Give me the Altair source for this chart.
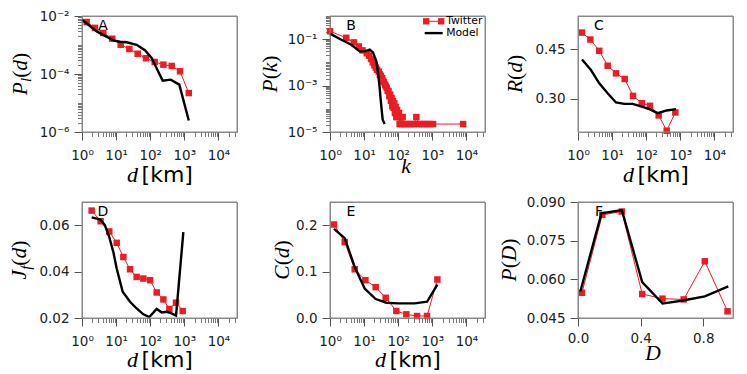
import altair as alt
import pandas as pd

RED = "#ec1c24"
FRAME = "#8a8a8a"
W, H = 155, 116
SANS = "DejaVu Sans"
SERIF = "Liberation Serif"
TICK_FS = 13.5

# ---------------- data ----------------
# A: P_l(d)
a_tw_d = [1.37, 2.4, 4.2, 7.7, 13.6, 24.4, 43, 75, 135, 243, 427, 748, 1350]
a_tw_v = [6.2e-3, 3.9e-3, 2.6e-3, 1.65e-3, 1.02e-3, 7.3e-4, 5.0e-4, 3.5e-4, 2.6e-4, 2.1e-4, 1.9e-4, 1.24e-4, 2.2e-5]
a_md_d = [1.0, 2.7, 8.3, 13, 20.4, 40, 70, 110, 162, 232, 400, 713, 1350]
a_md_v = [7.4e-3, 2.95e-3, 1.45e-3, 1.3e-3, 1.24e-3, 1.02e-3, 6.6e-4, 3.56e-4, 1.41e-4, 5.9e-5, 6.4e-5, 4.3e-5, 2.5e-6]

# B: P(k)
b_tw_k = [1, 3, 5, 7, 9, 12, 14, 16, 18, 20, 22, 24, 27, 29, 31, 34, 36, 38, 41, 43,
          46, 49, 52, 55, 58, 61, 64, 67, 70, 73, 77, 80, 84, 88, 92, 96, 100, 105, 110, 118,
          125, 135, 150, 170, 200, 240, 290, 340, 400, 480, 580, 700, 850, 1050, 8000]
b_tw_v = [0.22, 0.115, 0.073, 0.049, 0.033, 0.025, 0.0195, 0.014, 0.010, 0.0075, 0.006, 0.0048, 0.0040, 0.0030, 0.0026, 0.0021, 0.0016, 0.0014, 0.0011, 0.00095,
          0.0008, 0.0006, 0.00057, 0.00035, 0.00041, 0.00022, 0.00029, 0.00013, 0.00021, 0.00011, 0.00017, 0.000066, 0.00012, 0.000044, 0.000088, 0.000066, 0.000044, 0.000066, 0.000022, 0.000044,
          0.000022, 0.000044, 0.000022, 0.000022, 0.000022, 0.000022, 0.000022, 0.000044, 0.000022, 0.000022, 0.000022, 0.000022, 0.000022, 0.000022, 0.000022]
b_md_k = [1, 2.15, 4.2, 7.4, 10.4, 14.6, 18.2, 22.9, 25.6, 28.6, 30.6, 32.7, 35, 40]
b_md_v = [0.173, 0.095, 0.058, 0.030, 0.030, 0.0354, 0.027, 0.0111, 0.0035, 7.9e-4, 2.5e-4, 9.2e-5, 3.4e-5, 2.2e-5]

# C: R(d)
c_tw_d = [1.31, 2.3, 4.2, 7.4, 13, 23.4, 41, 74, 129, 232, 398, 713]
c_tw_v = [0.500, 0.479, 0.445, 0.400, 0.377, 0.360, 0.309, 0.287, 0.279, 0.250, 0.204, 0.259]
c_md_d = [1.31, 2.4, 4.2, 7.4, 13, 22.8, 40, 70, 124, 217, 398, 748]
c_md_v = [0.419, 0.387, 0.347, 0.317, 0.289, 0.285, 0.285, 0.277, 0.269, 0.257, 0.265, 0.269]

# D: J_f(d)
d_tw_d = [1.92, 3.5, 6.3, 10.4, 16.3, 25.6, 40, 63, 99, 155, 243, 364, 571, 896]
d_tw_v = [0.0663, 0.0617, 0.0573, 0.0524, 0.0463, 0.0410, 0.0377, 0.0370, 0.0363, 0.0310, 0.0280, 0.0239, 0.0266, 0.0230]
d_md_d = [1.92, 3.5, 4.7, 6.3, 8.3, 10.4, 15.6, 25.6, 40, 63, 94, 155, 217, 304, 426, 571, 936]
d_md_v = [0.0634, 0.0624, 0.0599, 0.0549, 0.0484, 0.0413, 0.0313, 0.0270, 0.0241, 0.0216, 0.0204, 0.0239, 0.0224, 0.0227, 0.0220, 0.0210, 0.0570]

# E: C(d)
e_tw_d = [1.31, 2.7, 5.3, 10.9, 21.8, 42.9, 88, 173, 356, 700, 1405]
e_tw_v = [0.2015, 0.1636, 0.105, 0.0815, 0.0665, 0.0436, 0.0151, 0.0079, 0.0043, 0.0043, 0.083]
e_md_d = [1.31, 2.7, 5.3, 10.4, 21.8, 45, 99, 304, 700, 1405]
e_md_v = [0.192, 0.172, 0.110, 0.0636, 0.0408, 0.0329, 0.0315, 0.0315, 0.035, 0.072]

# F: P(D)
f_tw_D = [0.025, 0.155, 0.28, 0.41, 0.54, 0.675, 0.81, 0.955]
f_tw_v = [0.0548, 0.0850, 0.0863, 0.0543, 0.0525, 0.0522, 0.0670, 0.0476]
f_md_D = [0.015, 0.15, 0.28, 0.41, 0.54, 0.67, 0.81, 0.96]
f_md_v = [0.0553, 0.0856, 0.0869, 0.0589, 0.0506, 0.0518, 0.0534, 0.0573]

LEGEND_LABELS = ["Twitter", "Model"]

# tick values
XLOG_DOMAIN = [1, 35000]
X_MAJOR = [1, 10, 100, 1000, 10000]
X_MINOR = [m * 10 ** e for e in range(0, 5) for m in range(2, 10) if m * 10 ** e <= 35000]
A_Y_MAJOR = [1e-6, 1e-4, 1e-2]
A_Y_MINOR = [m * 10.0 ** e for e in range(-6, -2) for m in range(2, 11)]
B_Y_MAJOR = [1e-5, 1e-3, 1e-1]
B_Y_MINOR = [m * 10.0 ** e for e in range(-5, 0) for m in range(2, 11)]

SUP = ("'10' + (round(log(datum.value)/LN10) < 0 ? '\u207b' : '') + "
       "['\u2070','\u00b9','\u00b2','\u00b3','\u2074','\u2075','\u2076','\u2077','\u2078','\u2079']"
       "[abs(round(log(datum.value)/LN10))]")


def major_axis(orient, values, fmt=None, expr=None, pad=5):
    kw = dict(orient=orient, values=values, grid=False, title=None, domain=True,
              domainColor=FRAME, domainWidth=1,
              tickSize=8, tickColor="#555555", tickWidth=1, labelFont=SANS,
              labelFontSize=TICK_FS, labelColor="#222222", labelPadding=pad,
              labelFlush=False, labelOverlap=False)
    if fmt:
        kw["format"] = fmt
    if expr:
        kw["labelExpr"] = expr
    return alt.Axis(**kw)


def minor_axis(orient, values):
    return alt.Axis(orient=orient, values=values, grid=False, title=None, domain=False,
                    labels=False, tickSize=4.5, tickColor="#555555", tickWidth=0.8)


SERIF_W = {'P': 0.611, 'd': 0.5, 'k': 0.444, 'R': 0.611, 'J': 0.444, 'C': 0.667,
           'D': 0.722, 'l': 0.278, 'f': 0.278, '(': 0.333, ')': 0.333}
SANS_W = {'[': 0.390, 'k': 0.579, 'm': 0.974, ']': 0.390, ' ': 0.318}


def seg_width(text, fam, size):
    table = SANS_W if fam == "sans" else SERIF_W
    return sum(table[c] for c in text) * size


def text_layer(text, x, y, font, size, italic=False, angle=0, align="left",
               baseline="alphabetic", color="black"):
    props = dict(font=font, fontSize=size, align=align, baseline=baseline, color=color)
    if italic:
        props["fontStyle"] = "italic"
    if angle:
        props["angle"] = angle
    return alt.Chart(pd.DataFrame({"t": [text]})).mark_text(**props).encode(
        x=alt.value(x), y=alt.value(y), text="t:N")


def y_title(parts, cx, size=21.5):
    total = sum(seg_width(t, f, size * s) for t, f, it, s, sh in parts)
    y = H / 2 + total / 2
    bx = cx + 0.235 * size
    layers = []
    for t, f, it, s, sh in parts:
        fs = size * s
        font = SANS if f == "sans" else SERIF
        layers.append(text_layer(t, bx + sh * size, y, font, fs, italic=it, angle=270))
        y -= seg_width(t, f, fs)
    return layers


def x_title(parts, cx, by):
    # parts: (text, fam, italic, size); text None means a gap of `size` px
    total = sum(s if t is None else seg_width(t, f, s) for t, f, it, s in parts)
    x = cx - total / 2
    layers = []
    for t, f, it, s in parts:
        if t is None:
            x += s
            continue
        font = SANS if f == "sans" else SERIF
        layers.append(text_layer(t, x, H + by, font, s, italic=it))
        x += seg_width(t, f, s)
    return layers


def frame_layers():
    one = pd.DataFrame({"t": [0]})
    out = []
    for y in (0, H):
        out.append(alt.Chart(one).mark_rule(color=FRAME, strokeWidth=1).encode(
            x=alt.value(0), x2=alt.value(W), y=alt.value(y)))
    for x in (0, W):
        out.append(alt.Chart(one).mark_rule(color=FRAME, strokeWidth=1).encode(
            x=alt.value(x), y=alt.value(0), y2=alt.value(H)))
    return out


def legend_layers(x0, y0, dy):
    out = []
    one = pd.DataFrame({"t": [0]})
    out.append(alt.Chart(one).mark_rule(color=RED, strokeWidth=1).encode(
        x=alt.value(x0), x2=alt.value(x0 + 18), y=alt.value(y0)))
    for xx in (x0 + 1.5, x0 + 16.5):
        out.append(alt.Chart(one).mark_point(shape="square", filled=True, size=40, color=RED, opacity=1).encode(
            x=alt.value(xx), y=alt.value(y0)))
    out.append(alt.Chart(one).mark_rule(color="black", strokeWidth=2.4).encode(
        x=alt.value(x0), x2=alt.value(x0 + 18), y=alt.value(y0 + dy)))
    for i, lab in enumerate(LEGEND_LABELS):
        out.append(text_layer(lab, x0 + 21.5, y0 + i * dy, SANS, 10.8, baseline="middle"))
    return out


def panel(tw_x, tw_y, md_x, md_y, xscale, yscale, x_major, x_minor, y_major, y_minor,
          letter, ytitle, xtitle, extra=()):
    tw = pd.DataFrame({"x": tw_x, "y": tw_y})
    md = pd.DataFrame({"x": md_x, "y": md_y})
    tw_line = alt.Chart(tw).mark_line(color=RED, strokeWidth=1).encode(
        x=alt.X("x:Q", scale=xscale, axis=x_major), y=alt.Y("y:Q", scale=yscale, axis=y_major))
    tw_pts = alt.Chart(tw).mark_point(shape="square", filled=True, size=42, color=RED, opacity=1).encode(
        x=alt.X("x:Q", scale=xscale, axis=None), y=alt.Y("y:Q", scale=yscale, axis=None))
    md_line = alt.Chart(md).mark_line(color="black", strokeWidth=2.4).encode(
        x=alt.X("x:Q", scale=xscale, axis=x_minor), y=alt.Y("y:Q", scale=yscale, axis=y_minor))
    lab = text_layer(letter, 21, 10, SANS, 14, align="center", baseline="middle")
    layers = [tw_line, tw_pts, md_line, lab] + frame_layers() + ytitle + xtitle + list(extra)
    return alt.layer(*layers).resolve_axis(x="independent", y="independent").properties(
        width=W, height=H)


xlog = alt.Scale(type="log", domain=XLOG_DOMAIN, nice=False)

XT_KM = [("d", "serif", True, 22), (None, None, False, 3.5), ("[km]", "sans", False, 22)]
XLOG_PAD = 8

pA = panel(a_tw_d, a_tw_v, a_md_d, a_md_v, xlog,
           alt.Scale(type="log", domain=[1e-6, 1e-2], nice=False),
           major_axis("bottom", X_MAJOR, expr=SUP, pad=XLOG_PAD), minor_axis("bottom", X_MINOR),
           major_axis("left", A_Y_MAJOR, expr=SUP), minor_axis("left", A_Y_MINOR),
           "A",
           y_title([("P", "serif", True, 1, 0), ("l", "serif", True, 0.7, 0.22),
                    ("(", "serif", False, 1, 0), ("d", "serif", True, 1, 0), (")", "serif", False, 1, 0)], -60.5),
           x_title(XT_KM, 78, 50))

pB = panel(b_tw_k, b_tw_v, b_md_k, b_md_v, xlog,
           alt.Scale(type="log", domain=[1e-5, 1], nice=False),
           major_axis("bottom", X_MAJOR, expr=SUP, pad=XLOG_PAD), minor_axis("bottom", X_MINOR),
           major_axis("left", B_Y_MAJOR, expr=SUP), minor_axis("left", B_Y_MINOR),
           "B",
           y_title([("P", "serif", True, 1, 0), ("(", "serif", False, 1, 0), ("k", "serif", True, 1, 0),
                    (")", "serif", False, 1, 0)], -58.3),
           x_title([("k", "serif", True, 21.5)], 76, 40.5),
           extra=legend_layers(94.7, 5.3, 11.8))

pC = panel(c_tw_d, c_tw_v, c_md_d, c_md_v, xlog,
           alt.Scale(domain=[0.2, 0.55], nice=False, zero=False),
           major_axis("bottom", X_MAJOR, expr=SUP, pad=XLOG_PAD), minor_axis("bottom", X_MINOR),
           major_axis("left", [0.30, 0.45], fmt=".2f"), None,
           "C",
           y_title([("R", "serif", True, 1, 0), ("(", "serif", False, 1, 0), ("d", "serif", True, 1, 0),
                    (")", "serif", False, 1, 0)], -61),
           x_title(XT_KM, 78, 50))

pD = panel(d_tw_d, d_tw_v, d_md_d, d_md_v, xlog,
           alt.Scale(domain=[0.02, 0.07], nice=False, zero=False),
           major_axis("bottom", X_MAJOR, expr=SUP, pad=XLOG_PAD), minor_axis("bottom", X_MINOR),
           major_axis("left", [0.02, 0.04, 0.06], fmt=".2f"), None,
           "D",
           y_title([("J", "serif", True, 1, 0), ("f", "serif", True, 0.7, 0.22),
                    ("(", "serif", False, 1, 0), ("d", "serif", True, 1, 0), (")", "serif", False, 1, 0)], -61),
           x_title(XT_KM, 78, 49))

pE = panel(e_tw_d, e_tw_v, e_md_d, e_md_v, xlog,
           alt.Scale(domain=[0, 0.25], nice=False),
           major_axis("bottom", X_MAJOR, expr=SUP, pad=XLOG_PAD), minor_axis("bottom", X_MINOR),
           major_axis("left", [0.0, 0.1, 0.2], fmt=".1f"), None,
           "E",
           y_title([("C", "serif", True, 1, 0), ("(", "serif", False, 1, 0), ("d", "serif", True, 1, 0),
                    (")", "serif", False, 1, 0)], -46),
           x_title(XT_KM, 78, 49))

pF = panel(f_tw_D, f_tw_v, f_md_D, f_md_v,
           alt.Scale(domain=[0, 0.99], nice=False, zero=False),
           alt.Scale(domain=[0.045, 0.09], nice=False, zero=False),
           major_axis("bottom", [0.0, 0.4, 0.8], fmt=".1f", pad=5), None,
           major_axis("left", [0.045, 0.06, 0.075, 0.09], fmt=".3f"), None,
           "F",
           y_title([("P", "serif", True, 1, 0), ("(", "serif", False, 1, 0), ("D", "serif", True, 1, 0),
                    (")", "serif", False, 1, 0)], -67),
           x_title([("D", "serif", True, 21.5)], 75, 42))

chart = alt.concat(pA, pB, pC, pD, pE, pF, columns=3,
                   spacing={"row": 70, "column": 93}, bounds="flush",
                   padding={"left": 0, "top": 0, "right": 4, "bottom": 0}).resolve_scale(
    x="independent", y="independent").configure_view(stroke=FRAME)

chart.save("out.html", embed_options={"renderer": "svg", "actions": False})
